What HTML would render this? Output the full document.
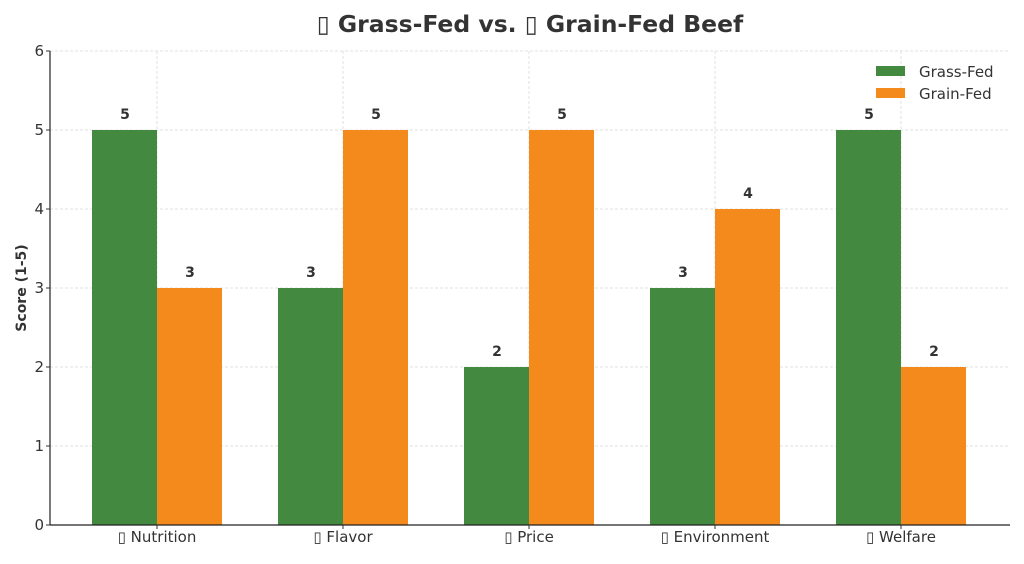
<!DOCTYPE html>
<html><head><meta charset="utf-8"><style>html,body{margin:0;padding:0;background:#fff}</style></head>
<body>
<svg width="1024" height="559" xmlns="http://www.w3.org/2000/svg" font-family="DejaVu Sans, Liberation Sans, sans-serif">
<rect width="1024" height="559" fill="#fff"/>
<g stroke="#d9d9d9" stroke-width="0.8" stroke-dasharray="3,2">
<line x1="50" x2="1010" y1="51" y2="51"/><line x1="50" x2="1010" y1="130" y2="130"/><line x1="50" x2="1010" y1="209" y2="209"/><line x1="50" x2="1010" y1="288" y2="288"/><line x1="50" x2="1010" y1="367" y2="367"/><line x1="50" x2="1010" y1="446" y2="446"/>
<line x1="157" x2="157" y1="51" y2="525"/><line x1="343" x2="343" y1="51" y2="525"/><line x1="529" x2="529" y1="51" y2="525"/><line x1="715" x2="715" y1="51" y2="525"/><line x1="901" x2="901" y1="51" y2="525"/>
</g>
<g>
<rect x="92" y="130" width="65" height="395" fill="#43893f"/><rect x="157" y="288" width="65" height="237" fill="#f58a1c"/>
<rect x="278" y="288" width="65" height="237" fill="#43893f"/><rect x="343" y="130" width="65" height="395" fill="#f58a1c"/>
<rect x="464" y="367" width="65" height="158" fill="#43893f"/><rect x="529" y="130" width="65" height="395" fill="#f58a1c"/>
<rect x="650" y="288" width="65" height="237" fill="#43893f"/><rect x="715" y="209" width="65" height="316" fill="#f58a1c"/>
<rect x="836" y="130" width="65" height="395" fill="#43893f"/><rect x="901" y="367" width="65" height="158" fill="#f58a1c"/>
</g>
<g font-size="14" font-weight="bold" fill="#333" text-anchor="middle">
<text x="125" y="119">5</text><text x="190" y="277">3</text>
<text x="311" y="277">3</text><text x="376" y="119">5</text>
<text x="497" y="356">2</text><text x="562" y="119">5</text>
<text x="683" y="277">3</text><text x="748" y="198">4</text>
<text x="869" y="119">5</text><text x="934" y="356">2</text>
</g>
<line x1="50" y1="51" x2="50" y2="525" stroke="#222" stroke-width="1.2"/>
<line x1="50" y1="525" x2="1010" y2="525" stroke="#222" stroke-width="1.2"/>
<g font-size="15" fill="#333" text-anchor="end">
<text x="44" y="530">0</text><text x="44" y="451">1</text><text x="44" y="372">2</text><text x="44" y="293">3</text><text x="44" y="214">4</text><text x="44" y="135">5</text><text x="44" y="56">6</text>
</g>
<g stroke="#333"><line x1="46" x2="50" y1="525" y2="525"/><line x1="46" x2="50" y1="446" y2="446"/><line x1="46" x2="50" y1="367" y2="367"/><line x1="46" x2="50" y1="288" y2="288"/><line x1="46" x2="50" y1="209" y2="209"/><line x1="46" x2="50" y1="130" y2="130"/><line x1="46" x2="50" y1="51" y2="51"/>
<line x1="157" x2="157" y1="525" y2="529"/><line x1="343" x2="343" y1="525" y2="529"/><line x1="529" x2="529" y1="525" y2="529"/><line x1="715" x2="715" y1="525" y2="529"/><line x1="901" x2="901" y1="525" y2="529"/></g>
<g font-size="15" fill="#333" text-anchor="middle">
<text x="157" y="542">▯ Nutrition</text><text x="343" y="542">▯ Flavor</text><text x="529" y="542">▯ Price</text><text x="715" y="542">▯ Environment</text><text x="901" y="542">▯ Welfare</text>
</g>
<text transform="translate(26,288) rotate(-90)" font-size="14" font-weight="bold" fill="#333" text-anchor="middle">Score (1-5)</text>
<text x="530" y="32" font-size="23.5" font-weight="bold" fill="#333" text-anchor="middle">▯ Grass-Fed vs. ▯ Grain-Fed Beef</text>
<rect x="876" y="66" width="29" height="10" fill="#43893f"/><rect x="876" y="88" width="29" height="10" fill="#f58a1c"/>
<g font-size="15" fill="#333"><text x="919" y="77">Grass-Fed</text><text x="919" y="99">Grain-Fed</text></g>
</svg>
</body></html>
